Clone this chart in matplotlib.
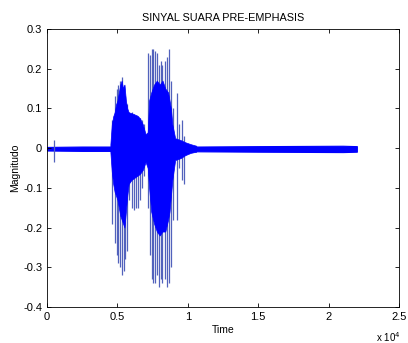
import numpy as np
import matplotlib
matplotlib.use('Agg')
import matplotlib.pyplot as plt

plt.rcParams['font.family'] = ['Liberation Sans', 'DejaVu Sans']

# envelope sinyal (waktu dalam x10^4 sampel)
t_env = [0.45, 0.46, 0.47, 0.48, 0.49, 0.50, 0.51, 0.52, 0.53, 0.54, 0.55, 0.56, 0.57,
         0.58, 0.60, 0.62, 0.64, 0.66, 0.68, 0.70,
         0.715, 0.725, 0.74, 0.76, 0.78, 0.80, 0.82, 0.84, 0.86, 0.87, 0.88, 0.89,
         0.91, 0.95, 0.98, 1.02, 1.06]
env_atas = [0.01, 0.06, 0.08, 0.09, 0.11, 0.12, 0.14, 0.16, 0.17, 0.15, 0.16, 0.12, 0.10,
            0.09, 0.088, 0.085, 0.082, 0.075, 0.06, 0.035,
            0.04, 0.12, 0.14, 0.16, 0.17, 0.16, 0.17, 0.15, 0.14, 0.12, 0.10, 0.06,
            0.025, 0.02, 0.015, 0.01, 0.006]
env_bawah = [-0.01, -0.06, -0.09, -0.11, -0.12, -0.13, -0.15, -0.17, -0.18, -0.19, -0.20, -0.16, -0.12,
             -0.09, -0.08, -0.075, -0.07, -0.065, -0.055, -0.035,
             -0.05, -0.10, -0.16, -0.19, -0.21, -0.22, -0.21, -0.21, -0.18, -0.16, -0.12, -0.08,
             -0.03, -0.025, -0.018, -0.012, -0.009]

# noise latar
t_noise = [0.0, 0.25, 0.45, 1.06, 1.5, 2.1, 2.2]
noise_atas = [0.003, 0.004, 0.004, 0.004, 0.005, 0.006, 0.005]
noise_bawah = [-0.006, -0.007, -0.007, -0.008, -0.009, -0.010, -0.009]

# puncak-puncak (spike)
t_spike = [0.047, 0.465, 0.48, 0.495, 0.505, 0.52, 0.53, 0.545, 0.555, 0.57, 0.585,
           0.60, 0.615, 0.63, 0.645, 0.66, 0.675, 0.69,
           0.72, 0.73, 0.745, 0.755, 0.77, 0.78, 0.795, 0.81, 0.82, 0.835, 0.85,
           0.865, 0.88, 0.895, 0.925, 0.94, 0.955, 0.97]
spike_atas = [0.021, 0.07, 0.13, 0.15, 0.16, 0.17, 0.18, 0.16, 0.13, 0.11, 0.09,
              0.09, 0.085, 0.08, 0.08, 0.075, 0.07, 0.06,
              0.24, 0.235, 0.25, 0.25, 0.245, 0.24, 0.21, 0.22, 0.21, 0.22, 0.23,
              0.25, 0.17, 0.10, 0.14, 0.06, 0.07, 0.03]
spike_bawah = [-0.034, -0.19, -0.24, -0.27, -0.29, -0.30, -0.32, -0.31, -0.28, -0.26, -0.13,
               -0.15, -0.155, -0.15, -0.15, -0.13, -0.10, -0.07,
               -0.15, -0.27, -0.33, -0.34, -0.34, -0.32, -0.35, -0.33, -0.34, -0.33, -0.35,
               -0.34, -0.30, -0.18, -0.18, -0.05, -0.08, -0.09]

fig = plt.figure(figsize=(4.08, 3.43), dpi=100)
ax = fig.add_axes([0.1152, 0.105, 0.863, 0.8105])

skala = 1e4
ax.fill_between(np.array(t_noise) * skala, noise_bawah, noise_atas, color='blue', lw=0.8)
ax.vlines(np.array(t_spike) * skala, spike_bawah, spike_atas, color='#5262bc', lw=0.9)
ax.fill_between(np.array(t_env) * skala, env_bawah, env_atas, color='blue', lw=0.5, zorder=3)

ax.set_xlim(0, 25000)
ax.set_ylim(-0.4, 0.3)
ax.set_xticks(np.arange(0, 25001, 5000))
ax.set_xticklabels(['0', '0.5', '1', '1.5', '2', '2.5'])
ax.set_yticks([-0.4, -0.3, -0.2, -0.1, 0, 0.1, 0.2, 0.3])
ax.set_yticklabels(['-0.4', '-0.3', '-0.2', '-0.1', '0', '0.1', '0.2', '0.3'])
ax.tick_params(direction='in', top=True, right=True, labelsize=8, length=3, width=0.6)
for s in ax.spines.values():
    s.set_linewidth(0.6)

ax.set_title('SINYAL SUARA PRE-EMPHASIS', fontsize=7.8, pad=6)
ax.set_xlabel('Time', fontsize=7.5, labelpad=2)
ax.set_ylabel('Magnitudo', fontsize=7.5, labelpad=2)
ax.text(1.003, -0.085, 'x 10$^4$', transform=ax.transAxes, fontsize=7, ha='right', va='top')

fig.savefig('out.png', dpi=100)
